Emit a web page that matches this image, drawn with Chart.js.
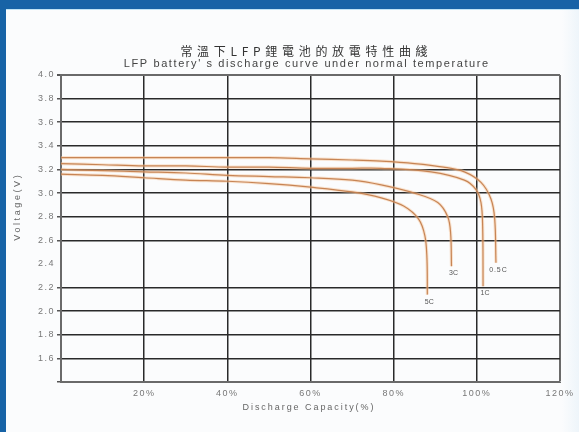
<!DOCTYPE html>
<html>
<head>
<meta charset="utf-8">
<script src="https://cdn.jsdelivr.net/npm/chart.js@4/dist/chart.umd.min.js"></script>
<style>
  html, body { margin: 0; padding: 0; width: 579px; height: 432px; overflow: hidden; background: #1763a6; }
  #panel { position: absolute; left: 6px; top: 9px; width: 573px; height: 423px;
           background: linear-gradient(to right, #fbfcfd 0%, #fbfcfd 97%, #eef5fa 100%);
           border-top: 1px solid #bfe3f4; box-sizing: border-box; }
  #wrap { position: absolute; left: 0; top: 0; width: 579px; height: 432px; }
</style>
</head>
<body>
<div id="panel"></div>
<div id="wrap"><canvas id="c" width="579" height="432"></canvas></div>
<script>
// ---- texts ----
const chartTitle = '常溫下LFP鋰電池的放電特性曲綫';
const chartSubtitle = "LFP battery' s discharge curve under normal temperature";
const xAxisTitle = 'Discharge Capacity(%)';
const yAxisTitle = 'Voltage(V)';

// ---- axis ticks ----
const xTickValues = [0, 20, 40, 60, 80, 100, 120];
const xTickLabels = ['', '20%', '40%', '60%', '80%', '100%', '120%'];
const yTickValues = [1.4, 1.6, 1.8, 2.0, 2.2, 2.4, 2.6, 2.8, 3.0, 3.2, 3.4, 3.6, 3.8, 4.0];
const yTickLabels = ['', '1.6', '1.8', '2.0', '2.2', '2.4', '2.6', '2.8', '3.0', '3.2', '3.4', '3.6', '3.8', '4.0'];

// ---- discharge curves: capacity (%) and voltage (V) ----
const seriesNames = ['0.5C', '1C', '3C', '5C'];

const cap05  = [0, 10, 20, 30, 40, 50, 60, 70, 77, 85, 92, 97, 101, 103.4, 104.3, 104.6];
const volt05 = [3.30, 3.30, 3.30, 3.30, 3.30, 3.30, 3.29, 3.28, 3.27, 3.25, 3.22, 3.18, 3.09, 2.95, 2.78, 2.41];

const cap1   = [0, 10, 20, 30, 40, 50, 60, 70, 77, 89, 97, 99.8, 101, 101.4, 101.5];
const volt1  = [3.25, 3.24, 3.23, 3.23, 3.22, 3.22, 3.21, 3.21, 3.21, 3.18, 3.11, 3.03, 2.92, 2.72, 2.21];

const cap3   = [0, 10, 20, 30, 40, 50, 60, 70, 77, 85, 90.6, 93, 93.7, 93.9];
const volt3  = [3.20, 3.19, 3.18, 3.17, 3.15, 3.14, 3.13, 3.11, 3.07, 3.00, 2.92, 2.80, 2.66, 2.38];

const cap5   = [0, 10, 20, 30, 40, 50, 60, 70, 77, 82.4, 86, 87.5, 88, 88.1];
const volt5  = [3.16, 3.15, 3.13, 3.11, 3.10, 3.08, 3.05, 3.01, 2.96, 2.89, 2.78, 2.64, 2.45, 2.14];

const curveCaps  = [cap05, cap1, cap3, cap5];
const curveVolts = [volt05, volt1, volt3, volt5];

// ---- build datasets: a thin brown core over a soft orange halo ----
const toPoints = (xs, ys) => xs.map((x, i) => ({ x: x, y: ys[i] }));
const coreSets = seriesNames.map((name, k) => ({
  label: name,
  data: toPoints(curveCaps[k], curveVolts[k]),
  showLine: true, pointRadius: 0, tension: 0.35,
  borderColor: 'rgba(196,128,78,0.95)', borderWidth: 1.2, order: 1
}));
const haloSets = seriesNames.map((name, k) => ({
  label: name + ' halo',
  data: toPoints(curveCaps[k], curveVolts[k]),
  showLine: true, pointRadius: 0, tension: 0.35,
  borderColor: 'rgba(246,196,150,0.45)', borderWidth: 3.2, order: 2
}));

const gridDark = '#2a2a2a';
const frameGrey = '#6a6a6a';
const isClose = (a, b) => Math.abs(a - b) < 1e-6;

// letter-spaced text helper
function spacedText(ctx, text, x, y, targetWidth) {
  ctx.letterSpacing = '0px';
  const w0 = ctx.measureText(text).width;
  const sp = Math.max((targetWidth - w0) / text.length, -0.5);
  ctx.letterSpacing = sp.toFixed(2) + 'px';
  ctx.fillText(text, x + sp / 2, y);
  ctx.letterSpacing = '0px';
}

const textLayer = {
  id: 'textLayer',
  beforeDraw(chart) { chart.ctx.letterSpacing = '1.5px'; },
  beforeDatasetsDraw(chart) { chart.ctx.letterSpacing = '0px'; },
  afterDraw(chart) {
    const ctx = chart.ctx;
    const xs = chart.scales.x, ys = chart.scales.y;
    ctx.save();
    ctx.textAlign = 'center';
    ctx.textBaseline = 'middle';

    // titles
    ctx.fillStyle = '#333';
    ctx.font = '12px "Noto Sans CJK TC"';
    spacedText(ctx, chartTitle, 304, 51.5, 252);
    ctx.fillStyle = '#444';
    ctx.font = '11px "Liberation Sans"';
    spacedText(ctx, chartSubtitle, 306, 63.5, 366);

    // axis titles
    ctx.fillStyle = '#666';
    ctx.font = '9px "Liberation Sans"';
    spacedText(ctx, xAxisTitle, 308, 408, 133);
    ctx.save();
    ctx.translate(18, 208);
    ctx.rotate(-Math.PI / 2);
    spacedText(ctx, yAxisTitle, 0, 0, 68);
    ctx.restore();

    // curve end labels
    ctx.fillStyle = '#555';
    ctx.font = '7px "Liberation Sans"';
    seriesNames.forEach((name, k) => {
      const cx = curveCaps[k], cy = curveVolts[k];
      const px = xs.getPixelForValue(cx[cx.length - 1]);
      const py = ys.getPixelForValue(cy[cy.length - 1]);
      spacedText(ctx, name, px + 2, py + 7, name.length * 4.6);
    });
    ctx.restore();
  }
};

new Chart(document.getElementById('c'), {
  type: 'scatter',
  data: { datasets: coreSets.concat(haloSets) },
  plugins: [textLayer],
  options: {
    responsive: false,
    animation: false,
    events: [],
    layout: { padding: { top: 75, right: 19, left: 0, bottom: 0 } },
    plugins: { legend: { display: false }, tooltip: { enabled: false }, title: { display: false } },
    scales: {
      x: {
        type: 'linear', min: 0, max: 120,
        afterBuildTicks: s => { s.ticks = xTickValues.map(v => ({ value: v })); },
        afterFit: s => { s.height = 50; },
        ticks: {
          callback: (v, i) => xTickLabels[i],
          font: { size: 9, family: 'Liberation Sans' }, color: '#777',
          padding: 6, maxRotation: 0, autoSkip: false
        },
        grid: {
          color: c => (c.tick && isClose(c.tick.value, 120)) ? frameGrey : gridDark,
          lineWidth: c => (c.tick && isClose(c.tick.value, 120)) ? 2 : 1.5,
          tickLength: 0
        },
        border: { color: frameGrey, width: 2 }
      },
      y: {
        type: 'linear', min: 1.4, max: 4.0,
        afterBuildTicks: s => { s.ticks = yTickValues.map(v => ({ value: v })); },
        afterFit: s => { s.width = 61; },
        ticks: {
          callback: (v, i) => yTickLabels[i],
          font: { size: 9, family: 'Liberation Sans' }, color: '#777',
          padding: 2, autoSkip: false
        },
        grid: {
          color: c => {
            if (!c.tick) return gridDark;
            if (isClose(c.tick.value, 2.4)) return 'rgba(0,0,0,0)';
            return isClose(c.tick.value, 4.0) ? frameGrey : gridDark;
          },
          tickColor: c => (c.tick && isClose(c.tick.value, 2.4)) ? 'rgba(0,0,0,0)' : '#555',
          lineWidth: c => (c.tick && isClose(c.tick.value, 4.0)) ? 2 : 1.5,
          tickLength: 4
        },
        border: { color: frameGrey, width: 2 }
      }
    }
  }
});
</script>
</body>
</html>
